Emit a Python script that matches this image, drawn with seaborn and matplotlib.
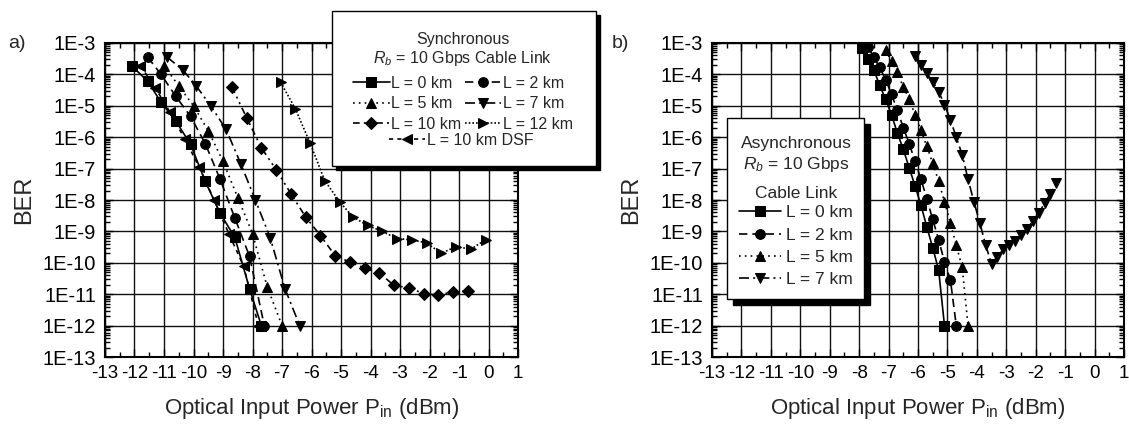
import matplotlib
matplotlib.use("Agg")
import matplotlib.pyplot as plt
import seaborn as sns
from matplotlib.patches import Rectangle
from matplotlib.ticker import FixedLocator, LogLocator, NullFormatter, MultipleLocator

sns.set_theme(style="ticks")
plt.rcParams["font.family"] = ["Liberation Sans", "DejaVu Sans"]
plt.rcParams["mathtext.fontset"] = "custom"
plt.rcParams["mathtext.rm"] = "Liberation Sans"
plt.rcParams["mathtext.it"] = "Liberation Sans:italic"

# ---------------- a) synchronous link ----------------
sync_l0_x = [-12.1, -11.55, -11.1, -10.6, -10.1, -9.6, -9.1, -8.6, -8.1, -7.7]
sync_l0_y = [1.9e-4, 6e-5, 1.3e-5, 3.3e-6, 5.9e-7, 3.9e-8, 3.8e-9, 6.5e-10, 1.5e-11, 1e-12]

sync_l2_x = [-11.55, -11.1, -10.6, -10.1, -9.6, -9.1, -8.6, -8.1, -7.6]
sync_l2_y = [3.5e-4, 1e-4, 2e-5, 4.6e-6, 6.2e-7, 4.6e-8, 2.7e-9, 1.6e-10, 1e-12]

sync_l5_x = [-11.0, -10.5, -10.0, -9.5, -9.0, -8.5, -8.0, -7.5, -7.0]
sync_l5_y = [1.9e-4, 4.3e-5, 1e-5, 1.6e-6, 1.7e-7, 1.2e-8, 8.5e-10, 1.7e-11, 1e-12]

sync_l7_x = [-10.9, -10.35, -9.9, -9.4, -8.9, -8.4, -7.9, -7.4, -6.9, -6.4]
sync_l7_y = [3.6e-4, 1.35e-4, 4.2e-5, 9.5e-6, 1.8e-6, 1.45e-7, 9.8e-9, 6.3e-10, 1.5e-11, 1e-12]

sync_l10_x = [-8.7, -8.2, -7.7, -7.2, -6.7, -6.2, -5.7, -5.2, -4.7, -4.2, -3.7,
              -3.2, -2.7, -2.2, -1.7, -1.2, -0.7]
sync_l10_y = [4e-5, 4.2e-6, 4.6e-7, 9.3e-8, 1.6e-8, 2.9e-9, 7.4e-10, 1.7e-10, 1.05e-10,
              6.8e-11, 4.7e-11, 1.9e-11, 1.6e-11, 1.05e-11, 9.3e-12, 1.2e-11, 1.25e-11]

sync_l12_x = [-7.05, -6.55, -6.05, -5.55, -5.05, -4.6, -4.1, -3.6, -3.1, -2.6, -2.1,
              -1.6, -1.1, -0.6, -0.1]
sync_l12_y = [5.7e-5, 8.1e-6, 6.6e-7, 4.1e-8, 8.9e-9, 2.9e-9, 1.55e-9, 1e-9, 5.9e-10,
              5.4e-10, 4.3e-10, 2e-10, 3.3e-10, 2.7e-10, 5.4e-10]

sync_dsf_x = [-11.8, -11.3, -10.8, -10.3, -9.8, -9.3, -8.8, -8.3, -7.8]
sync_dsf_y = [1.9e-4, 3.8e-5, 6.3e-6, 8.9e-7, 1.1e-7, 1e-8, 8.4e-10, 7.8e-11, 1e-12]

# ---------------- b) asynchronous link ----------------
async_l0_x = [-7.9, -7.7, -7.5, -7.3, -7.1, -6.9, -6.7, -6.5, -6.3, -6.1, -5.9, -5.7,
              -5.5, -5.3, -5.1]
async_l0_y = [6.9e-4, 3.0e-4, 1.35e-4, 4.5e-5, 1.6e-5, 5.2e-6, 1.35e-6, 4.1e-7, 1.07e-7,
              2.8e-8, 6.8e-9, 1.4e-9, 3.0e-10, 6.0e-11, 1e-12]

async_l2_x = [-7.7, -7.5, -7.3, -7.1, -6.9, -6.7, -6.5, -6.3, -6.1, -5.9, -5.7, -5.5,
              -5.3, -5.1, -4.9, -4.7]
async_l2_y = [7.4e-4, 3.5e-4, 1.66e-4, 6.8e-5, 2.3e-5, 7.2e-6, 2.0e-6, 6.3e-7, 1.7e-7,
              4.6e-8, 1.1e-8, 2.4e-9, 5.5e-10, 1.07e-10, 2.9e-11, 1e-12]

async_l5_x = [-7.1, -6.9, -6.7, -6.5, -6.3, -6.1, -5.9, -5.7, -5.5, -5.3, -5.1, -4.9,
              -4.7, -4.5, -4.3]
async_l5_y = [5.9e-4, 2.6e-4, 1.15e-4, 4.0e-5, 1.6e-5, 5.2e-6, 1.66e-6, 5.1e-7, 1.5e-7,
              4.0e-8, 8.7e-9, 1.9e-9, 3.6e-10, 7.4e-11, 1e-12]

async_l7_x = [-6.1, -5.9, -5.7, -5.5, -5.3, -5.1, -4.9, -4.7, -4.5, -4.3, -4.1, -3.9,
              -3.7, -3.5, -3.3, -3.1, -2.9, -2.7, -2.5, -2.3, -2.1, -1.9, -1.7, -1.5, -1.3]
async_l7_y = [3.9e-4, 2.0e-4, 1.07e-4, 5.7e-5, 2.8e-5, 1.1e-5, 3.6e-6, 1.0e-6, 2.8e-7,
              4.6e-8, 8.7e-9, 1.9e-9, 3.6e-10, 9.3e-11, 1.55e-10, 2.7e-10, 3.8e-10,
              4.8e-10, 7.6e-10, 1.2e-9, 2.1e-9, 3.9e-9, 7.8e-9, 1.6e-8, 3.5e-8]

# axis ticks
x_ticks = list(range(-13, 2))
x_tick_labels = [str(v) for v in x_ticks]
y_exps = list(range(3, 14))
y_ticks = [10.0 ** -e for e in y_exps]
y_tick_labels = [f"1E-{e}" for e in y_exps]

W, H = 1129, 428
fig = plt.figure(figsize=(W / 100, H / 100), dpi=100)
fig.patch.set_facecolor("white")


def px_box(x0, y0, x1, y1):
    """figure-fraction rectangle from pixel corners (y measured from top)"""
    return [x0 / W, 1 - y1 / H, (x1 - x0) / W, (y1 - y0) / H]


def fx(px):
    return px / W


def fy(py):
    return 1 - py / H


axL = fig.add_axes(px_box(105, 43, 518, 357))
axR = fig.add_axes(px_box(712, 43, 1124, 357))


def series(ax, x, y, marker, ls, ms=7):
    sns.lineplot(x=x, y=y, ax=ax, color="black", marker=marker, linestyle=ls,
                 markersize=ms, markeredgecolor="black", markerfacecolor="black",
                 linewidth=1.2, estimator=None, sort=False, legend=False)
    return ax.lines[-1]


ls_dash = (0, (5, 3))
ls_dot = (0, (1, 2.5))
ls_dashdot = (0, (6, 2.5, 1.2, 2.5))
ls_dashdotdot = (0, (4, 2.5, 1.2, 2.5, 1.2, 2.5))
ls_fine = (0, (1, 1.2))
ls_short = (0, (2.5, 2.5))

hL0 = series(axL, sync_l0_x, sync_l0_y, "s", "-", 6.5)
hL2 = series(axL, sync_l2_x, sync_l2_y, "o", ls_dash)
hL5 = series(axL, sync_l5_x, sync_l5_y, "^", ls_dot)
hL7 = series(axL, sync_l7_x, sync_l7_y, "v", ls_dashdot)
hL10 = series(axL, sync_l10_x, sync_l10_y, "D", ls_dashdotdot, 6.5)
hL12 = series(axL, sync_l12_x, sync_l12_y, ">", ls_fine)
hDSF = series(axL, sync_dsf_x, sync_dsf_y, "<", ls_short)

hR0 = series(axR, async_l0_x, async_l0_y, "s", "-", 6.5)
hR2 = series(axR, async_l2_x, async_l2_y, "o", ls_dash)
hR5 = series(axR, async_l5_x, async_l5_y, "^", ls_dot)
hR7 = series(axR, async_l7_x, async_l7_y, "v", ls_dashdot)

for ax in (axL, axR):
    ax.set_yscale("log")
    ax.set_xlim(-13, 1)
    ax.set_ylim(1e-13, 1e-3)
    ax.xaxis.set_major_locator(FixedLocator(x_ticks))
    ax.set_xticklabels(x_tick_labels)
    ax.xaxis.set_minor_locator(MultipleLocator(0.5))
    ax.yaxis.set_major_locator(FixedLocator(y_ticks))
    ax.set_yticklabels(y_tick_labels)
    ax.yaxis.set_minor_locator(LogLocator(base=10, subs=range(2, 10), numticks=30))
    ax.yaxis.set_minor_formatter(NullFormatter())
    ax.grid(True, which="major", color="#111111", linewidth=1.0)
    ax.tick_params(which="both", direction="in", top=True, right=True,
                   colors="black", width=1.0)
    ax.tick_params(which="major", length=6)
    ax.tick_params(which="minor", length=3.5)
    ax.tick_params(axis="x", labelsize=13.5, pad=5.5)
    ax.tick_params(axis="y", labelsize=14.5, pad=6.5)
    for sp in ax.spines.values():
        sp.set_color("black")
        sp.set_linewidth(1.5)
    ax.set_facecolor("white")
    ax.set_ylabel("BER", fontsize=17, labelpad=5)
    ax.set_xlabel(r"Optical Input Power P$_{\rm in}$ (dBm)", fontsize=16, labelpad=10)

fig.text(fx(8), fy(43), "a)", fontsize=14, va="center", ha="left")
fig.text(fx(612), fy(43), "b)", fontsize=14, va="center", ha="left")


def boxed(x0, y0, x1, y1, shadow):
    sx, sy, sw, sh = px_box(x0 + shadow, y0 + shadow, x1 + shadow, y1 + shadow)
    fig.patches.append(Rectangle((sx, sy), sw, sh, transform=fig.transFigure,
                                 facecolor="black", edgecolor="black", zorder=3))
    bx, by, bw, bh = px_box(x0, y0, x1, y1)
    fig.patches.append(Rectangle((bx, by), bw, bh, transform=fig.transFigure,
                                 facecolor="white", edgecolor="black", linewidth=1.0,
                                 zorder=3.5))


def heading(xc, ybase, s, size):
    fig.text(fx(xc), fy(ybase), s, fontsize=size, ha="center", va="baseline", zorder=6)


# legend for a)
boxed(332, 11, 596, 166, 4)
heading(463, 44, "Synchronous", 11.5)
heading(463, 63.5, "$R_b$ = 10 Gbps Cable Link", 11.5)
legA = fig.legend([hL0, hL5, hL10, hL2, hL7, hL12],
                  ["L = 0 km", "L = 5 km", "L = 10 km", "L = 2 km", "L = 7 km", "L = 12 km"],
                  ncol=2, loc="upper center", bbox_to_anchor=(fx(463), fy(76)),
                  frameon=False, fontsize=11.5, handlelength=2.3, handletextpad=0.1,
                  columnspacing=0.2, borderpad=0, labelspacing=0.33, borderaxespad=0)
legA.set_zorder(5)
legB = fig.legend([hDSF], ["L = 10 km DSF"], loc="upper center",
                  bbox_to_anchor=(fx(461), fy(133)), frameon=False, fontsize=11.5,
                  handlelength=2.3, handletextpad=0.1, borderpad=0, borderaxespad=0)
legB.set_zorder(5)

# legend for b)
boxed(727, 118, 864, 299, 6)
heading(796, 148, "Asynchronous", 12.5)
heading(796, 169.5, "$R_b$ = 10 Gbps", 12.5)
heading(796, 198, "Cable Link", 12.5)
legC = fig.legend([hR0, hR2, hR5, hR7],
                  ["L = 0 km", "L = 2 km", "L = 5 km", "L = 7 km"],
                  loc="upper center", bbox_to_anchor=(fx(796), fy(205)),
                  frameon=False, fontsize=12.5, handlelength=2.4, handletextpad=0.3,
                  borderpad=0, labelspacing=0.42, borderaxespad=0)
legC.set_zorder(5)

fig.savefig("out.png", dpi=100, facecolor="white")
